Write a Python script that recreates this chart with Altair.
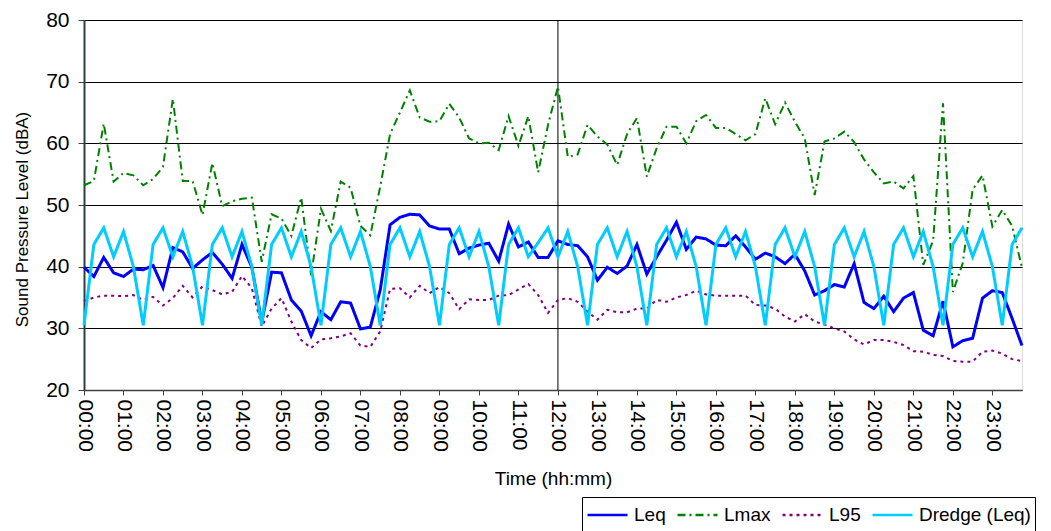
import altair as alt
import pandas as pd

# 15-minute time categories 00:00 .. 23:45 and hourly tick labels
times = [f"{h:02d}:{m:02d}" for h in range(24) for m in (0, 15, 30, 45)]
hour_labels = [f"{h:02d}:00" for h in range(24)]
marker_time = ["12:00"]

series_names = ["Leq", "Lmax", "L95", "Dredge (Leq)"]
series_colors = ["#0000FF", "#008000", "#800080", "#00CCFF"]

leq = [39.9, 38.4, 41.5, 39.0, 38.4, 39.6, 39.5, 40.2, 36.6, 43.1, 42.4, 39.7,
       41.1, 42.3, 40.4, 38.1, 43.6, 39.9, 31.0, 39.1, 39.0, 34.6, 32.8, 28.8,
       32.7, 31.4, 34.3, 34.1, 29.9, 30.2, 36.2, 46.8, 48.0, 48.5, 48.4, 46.6,
       46.1, 46.1, 42.1, 43.0, 43.5, 43.8, 40.9, 46.9, 43.2, 44.0, 41.5, 41.5,
       44.2, 43.6, 43.4, 41.6, 37.8, 39.9, 38.9, 40.1, 43.6, 38.8, 41.6, 44.3,
       47.2, 42.8, 44.8, 44.5, 43.5, 43.4, 45.0, 43.2, 41.2, 42.2, 41.6, 40.5,
       42.0, 39.3, 35.4, 36.1, 37.1, 36.7, 40.5, 34.2, 33.2, 35.2, 32.7, 34.9,
       35.8, 29.7, 28.8, 34.4, 27.0, 28.0, 28.4, 34.9, 36.1, 35.8, 31.6, 27.2]

lmax = [53.2, 53.9, 63.2, 53.8, 55.2, 54.8, 53.2, 54.2, 56.2, 67.2, 53.9, 53.9,
        48.4, 56.8, 49.8, 50.6, 51.0, 51.2, 40.8, 48.5, 47.8, 45.0, 51.2, 38.6,
        49.4, 45.8, 53.8, 52.8, 46.6, 45.1, 53.0, 61.5, 65.0, 68.6, 64.2, 63.5,
        63.6, 66.4, 64.2, 60.8, 60.0, 60.1, 58.9, 64.4, 59.6, 64.4, 55.3, 63.0,
        69.2, 57.8, 58.2, 63.0, 61.1, 59.8, 56.5, 61.5, 64.1, 54.6, 59.2, 62.7,
        62.7, 60.0, 63.6, 64.6, 62.5, 62.5, 61.5, 60.5, 61.5, 67.3, 63.1, 66.6,
        63.5, 60.8, 51.6, 60.3, 60.8, 61.9, 60.2, 57.4, 55.3, 53.5, 53.8, 52.7,
        54.7, 40.3, 44.2, 66.5, 35.9, 40.6, 52.5, 54.8, 46.5, 49.2, 46.6, 39.8]

l95 = [34.4, 35.0, 35.3, 35.3, 35.2, 35.4, 34.6, 35.1, 33.7, 34.9, 36.9, 35.0,
       36.8, 36.2, 35.5, 35.9, 38.5, 36.5, 30.3, 33.2, 34.9, 31.1, 28.1, 26.8,
       28.2, 28.4, 28.7, 29.2, 27.2, 27.0, 29.5, 36.4, 36.5, 35.0, 36.9, 35.7,
       36.7, 35.7, 33.1, 34.7, 34.6, 34.6, 35.3, 35.4, 36.3, 37.2, 35.4, 32.5,
       34.6, 34.9, 34.3, 32.7, 31.4, 33.0, 32.6, 32.6, 33.2, 33.2, 34.6, 34.3,
       35.0, 35.4, 36.1, 35.5, 35.3, 35.3, 35.3, 35.3, 33.8, 33.7, 33.2, 31.9,
       31.1, 32.3, 31.1, 30.6, 30.0, 29.5, 28.2, 27.4, 28.1, 28.1, 27.8, 27.3,
       26.3, 26.2, 25.7, 25.5, 24.7, 24.6, 24.6, 26.2, 26.4, 25.9, 25.0, 24.7]

dredge = [30.5, 43.6, 46.3, 41.6, 45.7, 40.0, 30.5, 43.6, 46.3, 41.6, 45.7, 40.0,
          30.5, 43.6, 46.3, 41.6, 45.7, 40.0, 30.5, 43.6, 46.3, 41.6, 45.7, 40.0,
          30.5, 43.6, 46.3, 41.6, 45.7, 40.0, 30.5, 43.6, 46.3, 41.6, 45.7, 40.0,
          30.5, 43.6, 46.3, 41.6, 45.7, 40.0, 30.5, 43.6, 46.3, 41.6, 43.9, 46.3,
          41.6, 45.7, 40.0, 30.5, 43.6, 46.3, 41.6, 45.7, 40.0, 30.5, 43.6, 46.3,
          41.6, 45.7, 40.0, 30.5, 43.6, 46.3, 41.6, 45.7, 40.0, 30.5, 43.6, 46.3,
          41.6, 45.7, 40.0, 30.5, 43.6, 46.3, 41.6, 45.7, 40.0, 30.5, 43.6, 46.3,
          41.6, 45.7, 40.0, 30.5, 43.6, 46.3, 41.6, 45.7, 40.0, 30.5, 43.6, 46.3]

y_ticks = [20, 30, 40, 50, 60, 70, 80]

rows = []
for name, vals in zip(series_names, [leq, lmax, l95, dredge]):
    for t, v in zip(times, vals):
        rows.append({"time": t, "series": name, "level": v})
df = pd.DataFrame(rows)

FONT = "Liberation Sans"

color_scale = alt.Scale(domain=series_names, range=series_colors)
dash_scale = alt.Scale(domain=series_names,
                       range=[[1, 0], [8, 4, 2, 4], [3, 4], [1, 0]])

legend = alt.Legend(
    title=None, orient="none", direction="horizontal", columns=4,
    legendX=498, legendY=477,
    symbolType="stroke", symbolSize=1600, symbolStrokeWidth=2.5,
    clipHeight=28, labelFontSize=19, labelFont=FONT, labelColor="black",
    labelOffset=5, columnPadding=10, padding=4,
    strokeColor="black", fillColor="white",
)

x_enc = alt.X(
    "time:O",
    scale=alt.Scale(type="point", padding=0, domain=times),
    axis=alt.Axis(
        values=hour_labels, labelAngle=90, labelAlign="left", labelBaseline="middle",
        title="Time (hh:mm)",
        titleX=469, titleY=88, titleBaseline="middle", titleAlign="center",
        titleFontSize=19, titleFont=FONT, titleFontWeight="normal", titleColor="black",
        labelFontSize=21, labelFont=FONT, labelColor="black", labelPadding=4,
        tickSize=5, tickColor="#404040", domainColor="#404040", domainWidth=1.5,
        grid=False,
    ),
)
y_enc = alt.Y(
    "level:Q",
    scale=alt.Scale(domain=[20, 80], nice=False, zero=False),
    axis=alt.Axis(
        values=y_ticks, title="Sound Pressure Level (dBA)",
        titleX=-62, titleY=199, titleBaseline="middle", titleAlign="center", titleAngle=-90,
        titleFontSize=17, titleFont=FONT, titleFontWeight="normal", titleColor="black",
        labelFontSize=21, labelFont=FONT, labelColor="black", labelPadding=9,
        tickSize=6, tickColor="#404040", domainColor="#2F3F3F", domainWidth=2,
        grid=True, gridColor="black", gridWidth=1,
    ),
)

base = alt.Chart(df)


def series_layer(name, width):
    return base.transform_filter(alt.datum.series == name).mark_line(
        strokeWidth=width, strokeCap="butt"
    ).encode(
        x=x_enc,
        y=y_enc,
        color=alt.Color("series:N", scale=color_scale, legend=legend),
        strokeDash=alt.StrokeDash("series:N", scale=dash_scale, legend=legend),
    )


marker = alt.Chart(pd.DataFrame({"time": marker_time})).mark_rule(
    color="black", strokeWidth=1
).encode(x=alt.X("time:O"))

chart = alt.layer(
    marker,
    series_layer("Leq", 3),
    series_layer("Lmax", 2),
    series_layer("L95", 2),
    series_layer("Dredge (Leq)", 3),
).properties(
    width=938, height=370,
    autosize=alt.AutoSizeParams(type="none"),
    padding={"left": 76, "top": 12, "right": 21, "bottom": 146},
).configure_view(stroke="#808080", strokeWidth=1).configure(background="white")

chart.save("out.html", embed_options={"renderer": "svg", "actions": False})
